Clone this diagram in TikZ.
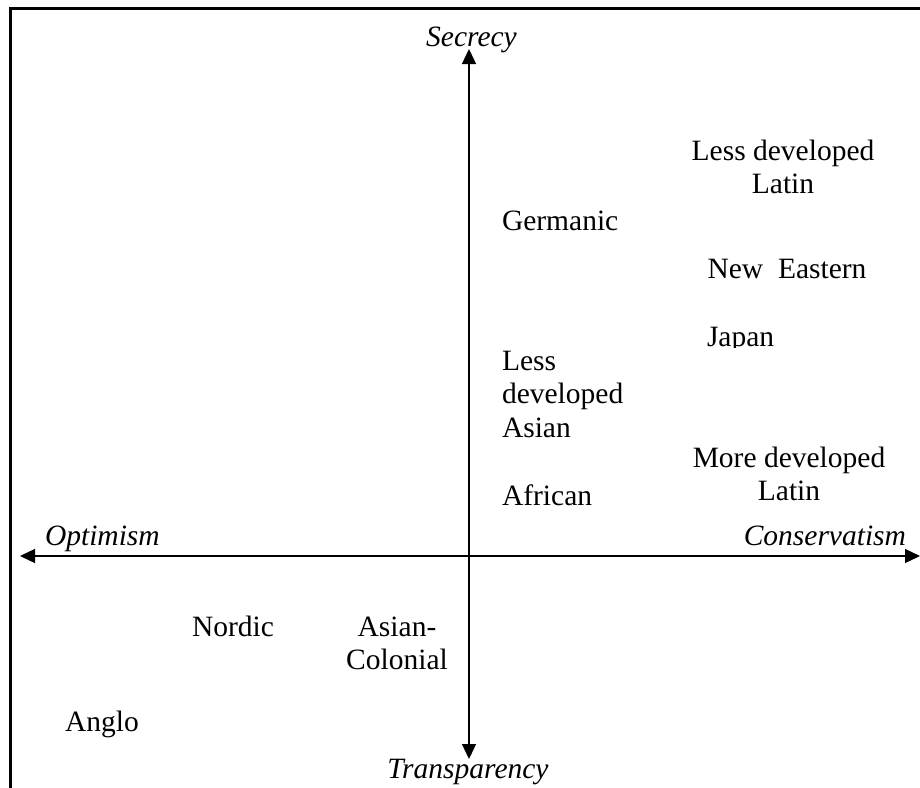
\documentclass[tikz,border=0pt]{standalone}
\usepackage{fontspec}
\setmainfont{Liberation Serif}
\usetikzlibrary{arrows.meta}
\newcommand{\mylinesc}[1]{\begin{tabular}[t]{@{}c@{}}#1\end{tabular}}
\newcommand{\mylinesl}[1]{\begin{tabular}[t]{@{}l@{}}#1\end{tabular}}
\tikzset{
  lbl/.style={inner sep=0pt, outer sep=0pt, font=\fontsize{29.5}{33.5}\selectfont},
  axlbl/.style={lbl, font=\fontsize{29.5}{33.5}\selectfont\itshape},
  frameline/.style={line width=3pt, line join=miter},
  axis/.style={line width=1.3pt, {Triangle[length=15pt,width=14pt]}-{Triangle[length=15pt,width=14pt]}}
}
\begin{document}
\begin{tikzpicture}[x=1pt,y=-1pt]
\useasboundingbox (0,0) rectangle (920,787);
% frame (left and top edges)
\coordinate (fb) at (10,790);
\coordinate (fc) at (10,8);
\coordinate (fr) at (922,8);
\draw[frameline] (fb) -- (fc) -- (fr);
% axes
\coordinate (axL) at (20,556);
\coordinate (axR) at (920,556);
\coordinate (axT) at (469,49);
\coordinate (axB) at (469,759);
\draw[axis] (axL) -- (axR);
\draw[axis] (axT) -- (axB);
% axis labels
\node[axlbl, anchor=base] (secrecy) at (471.5,46) {Secrecy};
\node[axlbl, anchor=base] (transp) at (468,778) {Transparency};
\node[axlbl, anchor=base west] (optim) at (45,545) {Optimism};
\node[axlbl, anchor=base east] (conserv) at (906,545) {Conservatism};
% clusters
\node[lbl, anchor=base] (ldlatin) at (783,160) {\mylinesc{Less developed\\Latin}};
\node[lbl, anchor=base west] (germanic) at (502,230) {Germanic};
\node[lbl, anchor=base] (neweast) at (787,278) {New\enspace Eastern};
\begin{scope}
\clip (690,300) rectangle (900,347.5);
\node[lbl, anchor=base west] (japan) at (707,346) {Japan};
\end{scope}
\node[lbl, anchor=base west] (ldasian) at (502,370) {\mylinesl{Less\\developed\\Asian}};
\node[lbl, anchor=base] (mdlatin) at (789,467) {\mylinesc{More developed\\Latin}};
\node[lbl, anchor=base west] (african) at (502,505) {African};
\node[lbl, anchor=base west] (nordic) at (192,636) {Nordic};
\node[lbl, anchor=base] (asiancol) at (397,636) {\mylinesc{Asian-\\Colonial}};
\node[lbl, anchor=base west] (anglo) at (65,731) {Anglo};
\end{tikzpicture}
\end{document}
